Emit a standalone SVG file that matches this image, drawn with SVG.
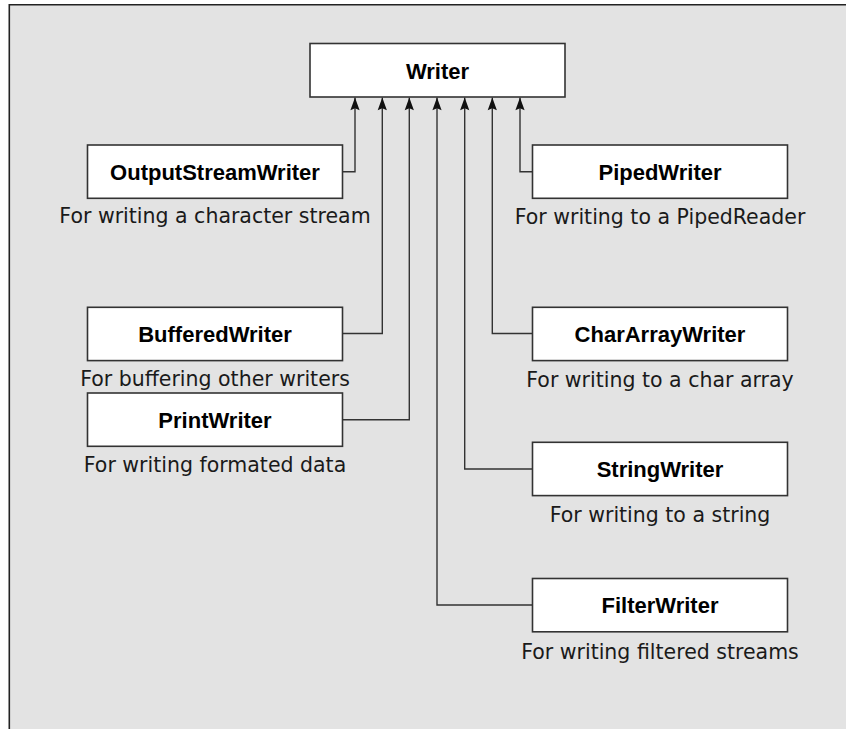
<svg xmlns="http://www.w3.org/2000/svg" width="846" height="729" viewBox="0 0 846 729">
<defs>
<marker id="arr" markerWidth="14" markerHeight="10" viewBox="-13 -5 14 10" refX="0" refY="0" orient="auto" markerUnits="userSpaceOnUse">
<path d="M0,0 L-12.6,-4.6 L-10.6,0 L-12.6,4.6 Z" fill="#111"/>
</marker>
<style>
.box{fill:#fff;stroke:#333;stroke-width:1.6}
.name{font-family:"Liberation Sans",Arial,sans-serif;font-weight:bold;font-size:22px;fill:#000;text-anchor:middle}
.desc{font-family:"DejaVu Sans",sans-serif;font-size:20.5px;fill:#1a1a1a;text-anchor:middle}
.conn{fill:none;stroke:#333;stroke-width:1.4}
</style>
</defs>
<rect x="0" y="0" width="846" height="729" fill="#fff"/>
<rect x="9.3" y="4.7" width="840" height="730" fill="#e3e3e3"/>
<path d="M9.3,729 V4.7 H846" fill="none" stroke="#222" stroke-width="1.6"/>

<g id="connectors">
<path class="conn" d="M342.5,171.7 H355 V97.6" marker-end="url(#arr)"/>
<path class="conn" d="M342.5,333.5 H382.3 V97.6" marker-end="url(#arr)"/>
<path class="conn" d="M342.5,419.7 H409.3 V97.6" marker-end="url(#arr)"/>
<path class="conn" d="M532.5,605 H437 V97.6" marker-end="url(#arr)"/>
<path class="conn" d="M532.5,469 H464.7 V97.6" marker-end="url(#arr)"/>
<path class="conn" d="M532.5,333.5 H492.3 V97.6" marker-end="url(#arr)"/>
<path class="conn" d="M532.5,171.7 H520 V97.6" marker-end="url(#arr)"/>
</g>

<g id="writer">
<rect class="box" x="310" y="43.5" width="255" height="53.5"/>
<text class="name" x="437.5" y="79">Writer</text>
</g>
<g id="outputstreamwriter">
<rect class="box" x="87.5" y="145" width="255" height="53.3"/>
<text class="name" x="215" y="179.6">OutputStreamWriter</text>
<text class="desc" x="215" y="223.3">For writing a character stream</text>
</g>
<g id="pipedwriter">
<rect class="box" x="532.5" y="145" width="255" height="53.3"/>
<text class="name" x="660" y="179.6">PipedWriter</text>
<text class="desc" x="660" y="223.8">For writing to a PipedReader</text>
</g>
<g id="bufferedwriter">
<rect class="box" x="87.5" y="307.3" width="255" height="53.3"/>
<text class="name" x="215" y="341.8">BufferedWriter</text>
<text class="desc" x="215" y="386.4">For buffering other writers</text>
</g>
<g id="chararraywriter">
<rect class="box" x="532.5" y="307.3" width="255" height="53.3"/>
<text class="name" x="660" y="341.8">CharArrayWriter</text>
<text class="desc" x="660" y="386.6">For writing to a char array</text>
</g>
<g id="printwriter">
<rect class="box" x="87.5" y="393" width="255" height="53.3"/>
<text class="name" x="215" y="427.5">PrintWriter</text>
<text class="desc" x="215" y="472.3">For writing formated data</text>
</g>
<g id="stringwriter">
<rect class="box" x="532.5" y="442.3" width="255" height="53.3"/>
<text class="name" x="660" y="476.8">StringWriter</text>
<text class="desc" x="660" y="521.6">For writing to a string</text>
</g>
<g id="filterwriter">
<rect class="box" x="532.5" y="578.5" width="255" height="53.3"/>
<text class="name" x="660" y="613">FilterWriter</text>
<text class="desc" x="660" y="658.8">For writing filtered streams</text>
</g>
</svg>
